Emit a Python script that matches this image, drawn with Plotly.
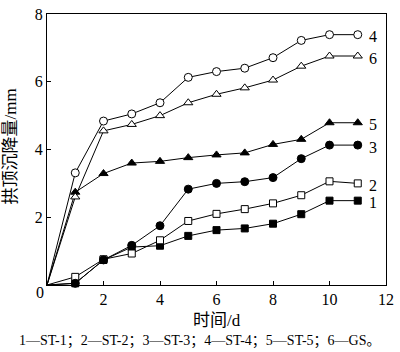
import plotly.graph_objects as go

days = [0, 1, 2, 3, 4, 5, 6, 7, 8, 9, 10, 11]
st1 = [0, 0.05, 0.74, 1.12, 1.16, 1.45, 1.62, 1.67, 1.81, 2.09, 2.49, 2.49]
st2 = [0, 0.24, 0.76, 0.93, 1.32, 1.89, 2.10, 2.24, 2.41, 2.65, 3.06, 3.00]
st3 = [0, 0.05, 0.74, 1.17, 1.75, 2.83, 3.00, 3.05, 3.17, 3.73, 4.13, 4.13]
st4 = [0, 3.31, 4.84, 5.05, 5.38, 6.13, 6.30, 6.40, 6.71, 7.22, 7.39, 7.39]
st5 = [0, 2.74, 3.29, 3.60, 3.65, 3.76, 3.84, 3.90, 4.15, 4.30, 4.79, 4.79]
gs = [0, 2.60, 4.55, 4.74, 5.00, 5.38, 5.63, 5.82, 6.05, 6.46, 6.76, 6.76]

# (label, values, symbol, filled)
series = [
    ("1", st1, "square", True),
    ("2", st2, "square", False),
    ("3", st3, "circle", True),
    ("5", st5, "triangle-up", True),
    ("6", gs, "triangle-up", False),
    ("4", st4, "circle", False),
]

x_ticks = [2, 4, 6, 8, 10, 12]
y_ticks = [2, 4, 6, 8]
caption = "1—ST-1；2—ST-2；3—ST-3；4—ST-4；5—ST-5；6—GS。"

SERIF = "Liberation Serif, Times New Roman, Noto Sans CJK SC, serif"

fig = go.Figure()
for name, ys, sym, filled in series:
    size = 7 if sym == "square" else 8
    # line from origin
    fig.add_trace(go.Scatter(
        x=days, y=ys, mode="lines", name=name,
        line=dict(color="black", width=1), showlegend=False,
    ))
    # markers (no marker at origin)
    fig.add_trace(go.Scatter(
        x=days[1:], y=ys[1:], mode="markers", name=name,
        marker=dict(symbol=sym, size=size, color="black" if filled else "white",
                    line=dict(color="black", width=1)),
        showlegend=False, cliponaxis=False,
    ))

annotations = []
for name, ys, sym, filled in series:
    annotations.append(dict(
        x=days[-1], y=ys[-1], xref="x", yref="y", text=name, showarrow=False,
        xanchor="center", yanchor="middle", xshift=15, yshift=-2,
        font=dict(family=SERIF, size=16, color="black"),
    ))

annotations += [
    dict(x=0, y=0, xref="x", yref="y", text="0", showarrow=False,
         xanchor="center", yanchor="middle", xshift=-7, yshift=-7,
         font=dict(family=SERIF, size=16, color="black")),
    dict(x=0.5, y=0, xref="paper", yref="paper", text="时间/d", showarrow=False,
         xanchor="center", yanchor="middle", yshift=-35,
         font=dict(family=SERIF, size=17, color="black")),
    dict(x=0, y=0.5, xref="paper", yref="paper", text="拱顶沉降量/mm", showarrow=False,
         textangle=-90, xanchor="center", yanchor="middle", xshift=-37, yshift=3,
         font=dict(family=SERIF, size=17, color="black")),
    dict(x=0.5, y=0, xref="paper", yref="paper", text=caption, showarrow=False,
         xanchor="center", yanchor="middle", yshift=-56, xshift=-17,
         font=dict(family=SERIF, size=14, color="black")),
]

fig.update_layout(
    width=400, height=352,
    margin=dict(l=47, r=9, t=6, b=67),
    paper_bgcolor="white", plot_bgcolor="white",
    font=dict(family=SERIF, size=16, color="black"),
    annotations=annotations,
    xaxis=dict(range=[0, 12], tickvals=x_ticks, ticks="inside", ticklen=4,
               showgrid=False, zeroline=False, showline=True, linecolor="black",
               linewidth=1, mirror=True, tickcolor="black",
               tickfont=dict(family=SERIF, size=16)),
    yaxis=dict(range=[0, 8], tickvals=y_ticks, ticks="inside", ticklen=4,
               showgrid=False, zeroline=False, showline=True, linecolor="black",
               linewidth=1, mirror=True, tickcolor="black",
               ticklabeloverflow="allow",
               tickfont=dict(family=SERIF, size=16)),
)

fig.write_html("out.html")
